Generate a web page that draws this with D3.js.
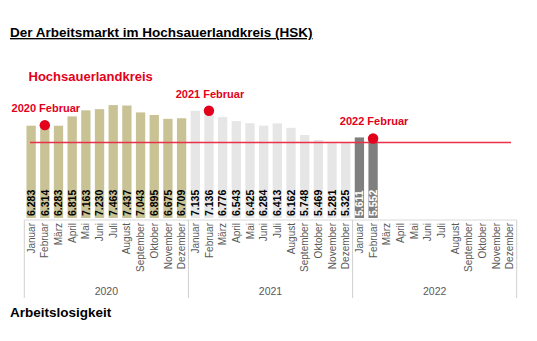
<!DOCTYPE html>
<html>
<head>
<meta charset="utf-8">
<script src="https://cdn.jsdelivr.net/npm/d3@7"></script>
<style>
  html, body { margin: 0; padding: 0; background: #fff; }
  svg { display: block; font-family: Arial, "Liberation Sans", sans-serif; }
</style>
</head>
<body>
<svg id="chart" width="537" height="341"></svg>
<script>
// Unemployment counts per month, Hochsauerlandkreis
const years = [2020, 2021, 2022];
const months = ["Januar", "Februar", "März", "April", "Mai", "Juni", "Juli",
  "August", "September", "Oktober", "November", "Dezember"];
const values2020 = [6283, 6314, 6283, 6815, 7163, 7230, 7463, 7437, 7043, 6895, 6675, 6709];
const values2021 = [7135, 7136, 6776, 6543, 6425, 6284, 6413, 6162, 5748, 5469, 5281, 5325];
const values2022 = [5611, 5552];
const referenceValue = 5325;           // level of the red horizontal line
const highlightMonth = "Februar";      // month marked with a red dot each year

const yearValues = [values2020, values2021, values2022];
const yearColors = ["#c8c295", "#e6e6e6", "#7f7f7f"];
const labelColors = ["#000", "#000", "#fff"];

// One slot per month of the three years
const slots = [];
years.forEach((yr, yi) => {
  months.forEach((m, mi) => {
    const v = yearValues[yi][mi];
    slots.push({ key: yr + "-" + mi, year: yr, yi, month: m, value: v });
  });
});

const de = d3.formatLocale({ decimal: ",", thousands: ".", grouping: [3], currency: ["", " €"] });
const fmt = de.format(",d");

const svg = d3.select("#chart");

// Title and headings
svg.append("text").attr("x", 10).attr("y", 37)
  .attr("font-size", 13.5).attr("font-weight", "bold").attr("fill", "#000")
  .attr("text-decoration", "underline")
  .text("Der Arbeitsmarkt im Hochsauerlandkreis (HSK)");
svg.append("text").attr("x", 28.5).attr("y", 80.5)
  .attr("font-size", 13).attr("font-weight", "bold").attr("fill", "#e3001b")
  .text("Hochsauerlandkreis");
svg.append("text").attr("x", 10).attr("y", 316.5)
  .attr("font-size", 13.5).attr("font-weight", "bold").attr("fill", "#000")
  .text("Arbeitslosigkeit");

const x0 = 24.3, x1 = 516.7, axisY = 220;
const x = d3.scaleBand().domain(slots.map(d => d.key)).range([x0, x1])
  .paddingInner(0.32).paddingOuter(0.16);
const y = d3.scaleLinear().domain([1000, 8000]).range([218, 95.7]);

const withValue = slots.filter(d => d.value != null);

// Bars
svg.append("g").selectAll("rect").data(withValue).join("rect")
  .attr("x", d => x(d.key)).attr("width", x.bandwidth())
  .attr("y", d => y(d.value)).attr("height", d => y.range()[0] - y(d.value))
  .attr("fill", d => yearColors[d.yi]);

// Value labels inside bars, reading bottom-up
svg.append("g").selectAll("text").data(withValue).join("text")
  .attr("transform", d => `translate(${x(d.key) + x.bandwidth() / 2 + 3.7},216) rotate(-90)`)
  .attr("font-size", 10.5).attr("font-weight", "bold")
  .attr("fill", d => labelColors[d.yi])
  .text(d => fmt(d.value));

// Category axis: baseline, month names, year separators and year names
const axisG = svg.append("g");
axisG.append("line").attr("x1", x0).attr("x2", x1).attr("y1", axisY).attr("y2", axisY)
  .attr("stroke", "#d9d9d9").attr("stroke-width", 1);
const yearWidth = (x1 - x0) / years.length;
years.forEach((yr, yi) => {
  const sx = x0 + yi * yearWidth;
  axisG.append("line").attr("x1", sx).attr("x2", sx).attr("y1", axisY).attr("y2", 298)
    .attr("stroke", "#d0d0d0");
  axisG.append("text").attr("x", sx + yearWidth / 2).attr("y", 295)
    .attr("text-anchor", "middle").attr("font-size", 10.5).attr("fill", "#595959")
    .text(yr);
});
axisG.append("line").attr("x1", x1).attr("x2", x1).attr("y1", axisY).attr("y2", 298)
  .attr("stroke", "#d0d0d0");
axisG.selectAll("text.month").data(slots).join("text").attr("class", "month")
  .attr("transform", d => `translate(${x(d.key) + x.bandwidth() / 2 + 3.6},${axisY + 3}) rotate(-90)`)
  .attr("text-anchor", "end").attr("font-size", 10).attr("fill", "#595959")
  .text(d => d.month);

// Red reference line
svg.append("line")
  .attr("x1", 30).attr("x2", 511)
  .attr("y1", y(referenceValue)).attr("y2", y(referenceValue))
  .attr("stroke", "#e8314a").attr("stroke-width", 1.5);

// Highlighted month per year: dot at bar top and label above it
const marks = withValue.filter(d => d.month === highlightMonth);
svg.append("g").selectAll("circle").data(marks).join("circle")
  .attr("cx", d => x(d.key) + x.bandwidth() / 2).attr("cy", d => y(d.value))
  .attr("r", 5.2).attr("fill", "#e3001b");
svg.append("g").selectAll("text").data(marks).join("text")
  .attr("x", d => x(d.key) + x.bandwidth() / 2 + 1).attr("y", d => y(d.value) - 13)
  .attr("text-anchor", "middle").attr("font-size", 11).attr("font-weight", "bold")
  .attr("fill", "#e3001b")
  .text(d => d.year + " " + d.month);
</script>
</body>
</html>
